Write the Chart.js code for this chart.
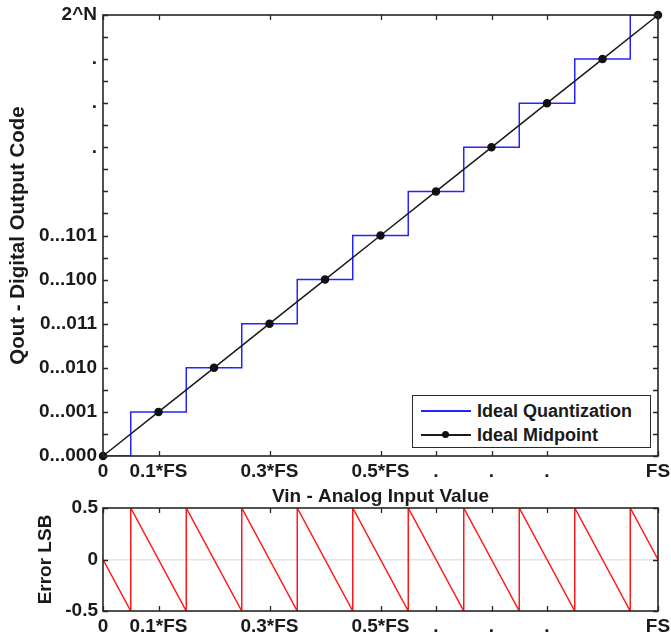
<!DOCTYPE html>
<html>
<head>
<meta charset="utf-8">
<script src="https://cdn.jsdelivr.net/npm/chart.js@4.4.1/dist/chart.umd.min.js"></script>
<style>
  html, body { margin: 0; padding: 0; background: #fff; }
  #wrap { position: relative; width: 671px; height: 637px; overflow: hidden; }
  #quantChart { position: absolute; left: 0; top: 0; }
  #errorChart { position: absolute; left: 0; top: 496px; }
  #legend {
    position: absolute; left: 412px; top: 395px; width: 239px; height: 53px;
    box-sizing: border-box; border: 1px solid #2a2a2a; background: #fff;
    font: bold 18px "Liberation Sans", Arial, sans-serif; color: #1a1a1a;
  }
  #legend .row { position: absolute; left: 0; height: 22px; line-height: 22px; width: 100%; }
  #legend .sample { position: absolute; left: 8px; width: 50px; top: 10px; height: 1.5px; }
  #legend .dot { position: absolute; left: 21px; top: -3px; width: 7px; height: 7px; border-radius: 50%; background: #111; }
  #legend .lbl { position: absolute; left: 64px; top: 0; white-space: nowrap; }
</style>
</head>
<body>
<div id="wrap">
  <canvas id="quantChart" width="671" height="508"></canvas>
  <canvas id="errorChart" width="671" height="141"></canvas>
  <div id="legend">
    <div class="row" style="top:4px"><span class="sample" style="background:#2424ff"></span><span class="lbl">Ideal Quantization</span></div>
    <div class="row" style="top:28px"><span class="sample" style="background:#1a1a1a"><span class="dot"></span></span><span class="lbl">Ideal Midpoint</span></div>
  </div>
</div>
<script>
// x axis (input, fraction of full scale)
const xTickValues = [0, 0.1, 0.3, 0.5, 0.6, 0.7, 0.8, 1];
const xTickLabels = ['0', '0.1*FS', '0.3*FS', '0.5*FS', '.', '.', '.', 'FS'];

// y axis of the code plot (labels per integer code)
const codeLabels = ['0...000', '0...001', '0...010', '0...011', '0...100', '0...101', '', '.', '.', '.', '2^N'];
const codeTickStep = 0.5;

// ideal quantization staircase: transition inputs and the code after each one
const quantInputs = [0, 0.05, 0.15, 0.25, 0.35, 0.45, 0.55, 0.65, 0.75, 0.85, 0.95, 1];
const quantCodes  = [0, 1, 2, 3, 4, 5, 6, 7, 8, 9, 10, 10];

// ideal midpoints
const midInputs = [0, 0.1, 0.2, 0.3, 0.4, 0.5, 0.6, 0.7, 0.8, 0.9, 1];
const midCodes  = [0, 1, 2, 3, 4, 5, 6, 7, 8, 9, 10];

// quantization error in LSB
const errInputs = [0, 0.05, 0.05, 0.15, 0.15, 0.25, 0.25, 0.35, 0.35, 0.45, 0.45,
                   0.55, 0.55, 0.65, 0.65, 0.75, 0.75, 0.85, 0.85, 0.95, 0.95, 1];
const errLsb    = [0, -0.5, 0.5, -0.5, 0.5, -0.5, 0.5, -0.5, 0.5, -0.5, 0.5,
                   -0.5, 0.5, -0.5, 0.5, -0.5, 0.5, -0.5, 0.5, -0.5, 0.5, 0];
const errTickValues = [-0.5, 0, 0.5];
const errTickLabels = ['-0.5', '0', '0.5'];

Chart.defaults.font.family = '"Liberation Sans", Arial, Helvetica, sans-serif';
Chart.defaults.font.size = 19;
Chart.defaults.font.weight = 'bold';
Chart.defaults.color = '#1a1a1a';

// matlab-like box with inward tick marks
const matlabBox = {
  id: 'matlabBox',
  afterDatasetsDraw(chart) {
    const { ctx, chartArea: a, scales } = chart;
    const len = 5;
    ctx.save();
    ctx.strokeStyle = '#262626';
    ctx.lineWidth = 1.3;
    ctx.beginPath();
    scales.x.ticks.forEach(t => {
      const px = Math.round(scales.x.getPixelForValue(t.value)) + 0.5;
      ctx.moveTo(px, a.bottom); ctx.lineTo(px, a.bottom - len);
      ctx.moveTo(px, a.top); ctx.lineTo(px, a.top + len);
    });
    scales.y.ticks.forEach(t => {
      const py = Math.round(scales.y.getPixelForValue(t.value)) + 0.5;
      ctx.moveTo(a.left, py); ctx.lineTo(a.left + len, py);
      ctx.moveTo(a.right, py); ctx.lineTo(a.right - len, py);
    });
    ctx.stroke();
    ctx.lineWidth = 1.6;
    ctx.strokeRect(a.left, a.top, a.right - a.left, a.bottom - a.top);
    ctx.restore();
  }
};

function xLabel(v) {
  const i = xTickValues.indexOf(v);
  return i >= 0 ? xTickLabels[i] : '';
}

// keep the plot box where the layout padding puts it
function fixWidth(w) {
  return s => { s.width = w; s.paddingTop = 0; s.paddingBottom = 0; };
}
function fixHeight(h) {
  return s => { s.height = h; s.paddingLeft = 0; s.paddingRight = 0; };
}

new Chart(document.getElementById('quantChart'), {
  type: 'line',
  data: {
    datasets: [
      {
        label: 'Ideal Quantization',
        data: quantInputs.map((x, i) => ({ x, y: quantCodes[i] })),
        borderColor: '#2424ff',
        borderWidth: 1.5,
        stepped: true,
        pointRadius: 0,
        order: 2
      },
      {
        label: 'Ideal Midpoint',
        data: midInputs.map((x, i) => ({ x, y: midCodes[i] })),
        borderColor: '#1a1a1a',
        borderWidth: 1.5,
        pointRadius: 3.5,
        pointBackgroundColor: '#111',
        pointBorderColor: '#111',
        clip: false,
        order: 1
      }
    ]
  },
  options: {
    responsive: false,
    animation: false,
    layout: { padding: { left: 6, top: 15, right: 13, bottom: 0 } },
    plugins: { legend: { display: false }, tooltip: { enabled: false } },
    scales: {
      x: {
        type: 'linear', min: 0, max: 1,
        afterBuildTicks: s => { s.ticks = xTickValues.map(v => ({ value: v })); },
        afterFit: fixHeight(52),
        ticks: { autoSkip: false, maxRotation: 0, padding: 4, callback: xLabel },
        grid: { display: false, drawTicks: false },
        border: { display: false },
        title: { display: true, text: 'Vin - Analog Input Value', padding: 0 }
      },
      y: {
        type: 'linear', min: 0, max: 10,
        afterBuildTicks: s => {
          const t = [];
          for (let v = 0; v <= codeLabels.length - 1; v += codeTickStep) t.push({ value: v });
          s.ticks = t;
        },
        afterFit: fixWidth(97),
        ticks: { autoSkip: false, padding: 6, callback: v => codeLabels[v] ?? '' },
        grid: { display: false, drawTicks: false },
        border: { display: false },
        title: { display: true, text: 'Qout - Digital Output Code', padding: 0, font: { size: 20.5 } }
      }
    }
  },
  plugins: [matlabBox]
});

new Chart(document.getElementById('errorChart'), {
  type: 'line',
  data: {
    datasets: [{
      label: 'Error',
      data: errInputs.map((x, i) => ({ x, y: errLsb[i] })),
      borderColor: '#ff1a1a',
      borderWidth: 1.5,
      pointRadius: 0
    }]
  },
  options: {
    responsive: false,
    animation: false,
    layout: { padding: { left: 34, top: 12, right: 13, bottom: 0 } },
    plugins: { legend: { display: false }, tooltip: { enabled: false } },
    scales: {
      x: {
        type: 'linear', min: 0, max: 1,
        afterBuildTicks: s => { s.ticks = xTickValues.map(v => ({ value: v })); },
        afterFit: fixHeight(26),
        ticks: { autoSkip: false, maxRotation: 0, padding: 4, callback: xLabel },
        grid: { display: false, drawTicks: false },
        border: { display: false }
      },
      y: {
        type: 'linear', min: -0.5, max: 0.5,
        afterBuildTicks: s => { s.ticks = errTickValues.map(v => ({ value: v })); },
        afterFit: fixWidth(69),
        ticks: { autoSkip: false, padding: 5, callback: v => errTickLabels[errTickValues.indexOf(v)] },
        grid: {
          drawTicks: false,
          lineWidth: 1.5,
          color: c => (c.tick && c.tick.value === 0 ? '#e4e4e4' : 'rgba(0,0,0,0)')
        },
        border: { display: false },
        title: { display: true, text: 'Error LSB', padding: 0 }
      }
    }
  },
  plugins: [matlabBox]
});
</script>
</body>
</html>
